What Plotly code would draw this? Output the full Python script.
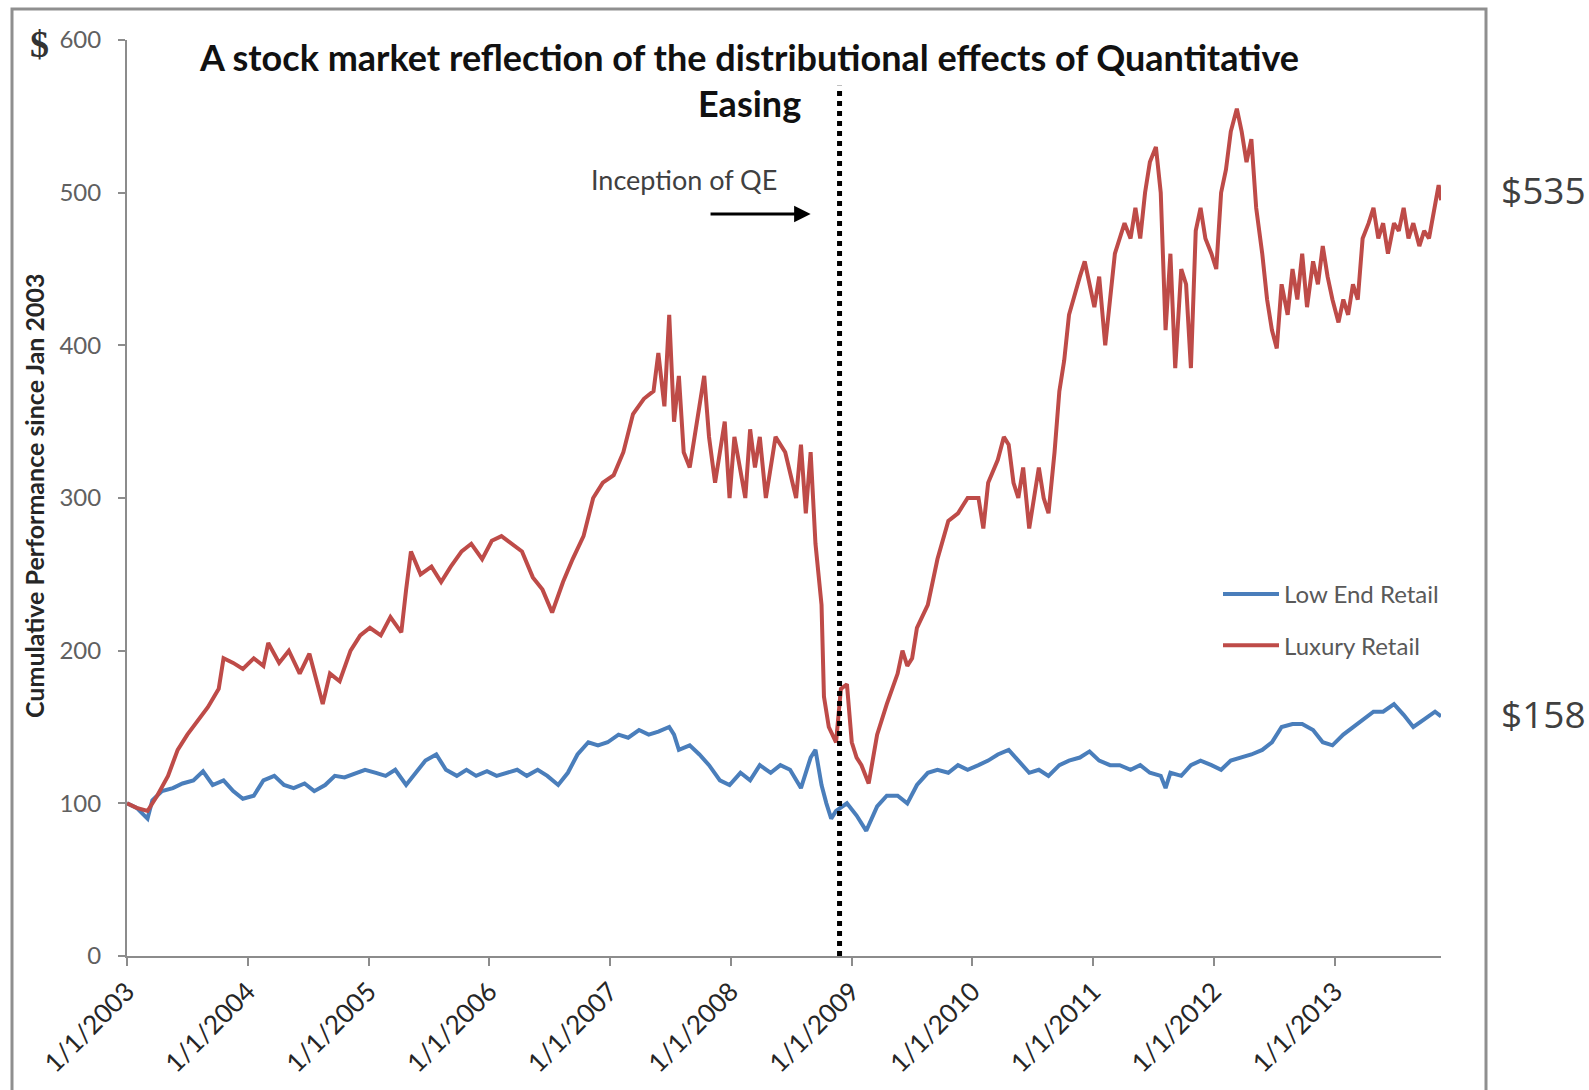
import pandas as pd
import plotly.graph_objects as go

# ---------------- data (decimal years, cumulative $ value of $100 invested Jan 2003) -------------
lux_t = [2003.00, 2003.08, 2003.17, 2003.25, 2003.34, 2003.42, 2003.50, 2003.59, 2003.67, 2003.76,
         2003.80, 2003.88, 2003.96, 2004.05, 2004.13, 2004.17, 2004.26, 2004.34, 2004.43, 2004.51,
         2004.59, 2004.62, 2004.68, 2004.76, 2004.85, 2004.93, 2005.01, 2005.10, 2005.18, 2005.27,
         2005.31, 2005.35, 2005.43, 2005.52, 2005.60, 2005.68, 2005.77, 2005.85, 2005.94, 2006.02,
         2006.10, 2006.19, 2006.27, 2006.36, 2006.44, 2006.52, 2006.61, 2006.69, 2006.78, 2006.86,
         2006.94, 2007.03, 2007.11, 2007.19, 2007.28, 2007.36, 2007.40, 2007.45, 2007.49, 2007.53,
         2007.57, 2007.61, 2007.66, 2007.74, 2007.78, 2007.82, 2007.87, 2007.91, 2007.95, 2007.99,
         2008.03, 2008.12, 2008.16, 2008.20, 2008.24, 2008.29, 2008.37, 2008.45, 2008.54, 2008.58,
         2008.62, 2008.66, 2008.70, 2008.75, 2008.77, 2008.81, 2008.87, 2008.91, 2008.96, 2009.00,
         2009.04, 2009.08, 2009.14, 2009.21, 2009.29, 2009.38, 2009.42, 2009.46, 2009.50, 2009.54,
         2009.63, 2009.71, 2009.80, 2009.88, 2009.96, 2010.05, 2010.09, 2010.13, 2010.21, 2010.26,
         2010.30, 2010.34, 2010.38, 2010.42, 2010.47, 2010.51, 2010.55, 2010.59, 2010.63, 2010.68,
         2010.72, 2010.76, 2010.80, 2010.89, 2010.93, 2010.97, 2011.01, 2011.05, 2011.10, 2011.14,
         2011.18, 2011.26, 2011.31, 2011.35, 2011.39, 2011.43, 2011.47, 2011.52, 2011.56, 2011.60,
         2011.64, 2011.68, 2011.73, 2011.77, 2011.81, 2011.85, 2011.89, 2011.93, 2011.98, 2012.02,
         2012.06, 2012.10, 2012.14, 2012.19, 2012.23, 2012.27, 2012.31, 2012.35, 2012.40, 2012.44,
         2012.48, 2012.52, 2012.56, 2012.61, 2012.65, 2012.69, 2012.73, 2012.77, 2012.82, 2012.86,
         2012.90, 2012.94, 2012.98, 2013.03, 2013.07, 2013.11, 2013.15, 2013.19, 2013.23, 2013.28,
         2013.32, 2013.36, 2013.40, 2013.44, 2013.49, 2013.53, 2013.57, 2013.61, 2013.65, 2013.70,
         2013.74, 2013.78, 2013.83, 2013.86, 2013.88]
lux_v = [100, 97, 95, 105, 118, 135, 145, 155, 163, 175,
         195, 192, 188, 195, 190, 205, 192, 200, 185, 198,
         175, 165, 185, 180, 200, 210, 215, 210, 222, 212,
         240, 265, 250, 255, 245, 255, 265, 270, 260, 272,
         275, 270, 265, 248, 240, 225, 245, 260, 275, 300,
         310, 315, 330, 355, 365, 370, 395, 360, 420, 350,
         380, 330, 320, 360, 380, 340, 310, 330, 350, 300,
         340, 300, 345, 320, 340, 300, 340, 330, 300, 335,
         290, 330, 270, 230, 170, 150, 140, 175, 178, 140,
         130, 125, 113, 145, 165, 185, 200, 190, 195, 215,
         230, 260, 285, 290, 300, 300, 280, 310, 325, 340,
         335, 310, 300, 320, 280, 300, 320, 300, 290, 330,
         370, 390, 420, 445, 455, 440, 425, 445, 400, 430,
         460, 480, 470, 490, 470, 500, 520, 530, 500, 410,
         460, 385, 450, 440, 385, 475, 490, 470, 460, 450,
         500, 515, 540, 555, 540, 520, 535, 490, 460, 430,
         410, 398, 440, 420, 450, 430, 460, 425, 455, 440,
         465, 445, 430, 415, 430, 420, 440, 430, 470, 480,
         490, 470, 480, 460, 480, 475, 490, 470, 480, 465,
         475, 470, 490, 505, 495]

low_t = [2003.00, 2003.08, 2003.17, 2003.21, 2003.29, 2003.38, 2003.46, 2003.55, 2003.63, 2003.71,
         2003.80, 2003.88, 2003.96, 2004.05, 2004.13, 2004.22, 2004.30, 2004.38, 2004.47, 2004.55,
         2004.64, 2004.72, 2004.80, 2004.89, 2004.97, 2005.06, 2005.14, 2005.22, 2005.31, 2005.39,
         2005.47, 2005.56, 2005.64, 2005.73, 2005.81, 2005.89, 2005.98, 2006.06, 2006.15, 2006.23,
         2006.31, 2006.40, 2006.48, 2006.57, 2006.65, 2006.73, 2006.82, 2006.90, 2006.98, 2007.07,
         2007.15, 2007.24, 2007.32, 2007.40, 2007.49, 2007.53, 2007.57, 2007.66, 2007.74, 2007.82,
         2007.91, 2007.99, 2008.08, 2008.16, 2008.24, 2008.33, 2008.41, 2008.49, 2008.58, 2008.66,
         2008.70, 2008.75, 2008.79, 2008.83, 2008.87, 2008.96, 2009.04, 2009.12, 2009.21, 2009.29,
         2009.38, 2009.46, 2009.54, 2009.63, 2009.71, 2009.80, 2009.88, 2009.96, 2010.05, 2010.13,
         2010.21, 2010.30, 2010.38, 2010.47, 2010.55, 2010.63, 2010.72, 2010.80, 2010.89, 2010.97,
         2011.05, 2011.14, 2011.22, 2011.31, 2011.39, 2011.47, 2011.56, 2011.60, 2011.64, 2011.73,
         2011.81, 2011.89, 2011.98, 2012.06, 2012.14, 2012.23, 2012.31, 2012.40, 2012.48, 2012.56,
         2012.65, 2012.73, 2012.82, 2012.90, 2012.98, 2013.07, 2013.15, 2013.23, 2013.32, 2013.40,
         2013.49, 2013.57, 2013.65, 2013.74, 2013.83, 2013.88]
low_v = [100, 97, 90, 102, 108, 110, 113, 115, 121, 112,
         115, 108, 103, 105, 115, 118, 112, 110, 113, 108,
         112, 118, 117, 120, 122, 120, 118, 122, 112, 120,
         128, 132, 122, 118, 122, 118, 121, 118, 120, 122,
         118, 122, 118, 112, 120, 132, 140, 138, 140, 145,
         143, 148, 145, 147, 150, 145, 135, 138, 132, 125,
         115, 112, 120, 115, 125, 120, 125, 122, 110, 130,
         135, 112, 100, 90, 95, 100, 92, 82, 98, 105,
         105, 100, 112, 120, 122, 120, 125, 122, 125, 128,
         132, 135, 128, 120, 122, 118, 125, 128, 130, 134,
         128, 125, 125, 122, 125, 120, 118, 110, 120, 118,
         125, 128, 125, 122, 128, 130, 132, 135, 140, 150,
         152, 152, 148, 140, 138, 145, 150, 155, 160, 160,
         165, 158, 150, 155, 160, 157]

year_ticks = list(range(2003, 2014))
tick_labels = [f"1/1/{y}" for y in year_ticks]
y_ticks = [0, 100, 200, 300, 400, 500, 600]
qe_date = "2008-11-25"
end_labels = ["$535", "$158"]


def dec2date(v):
    yr = int(v)
    frac = v - yr
    s = pd.Timestamp(year=yr, month=1, day=1)
    e = pd.Timestamp(year=yr + 1, month=1, day=1)
    return s + (e - s) * frac


lux_x = [dec2date(v) for v in lux_t]
low_x = [dec2date(v) for v in low_t]

# ---------------- layout geometry -------------
W, H = 1589, 1090
L, R, T, B = 127, 148, 40, 132
PW, PH = W - L - R, H - T - B


def xp(px):
    return (px - L) / PW


def yp(py):
    return (H - B - py) / PH


BLUE = "#4A7EBB"
RED = "#BE4B48"
FONT = "Lato"

fig = go.Figure()
fig.add_trace(go.Scatter(x=low_x, y=low_v, mode="lines", name="Low End Retail",
                         line=dict(color=BLUE, width=4), legendgroup="a"))
fig.add_trace(go.Scatter(x=lux_x, y=lux_v, mode="lines", name="Luxury Retail",
                         line=dict(color=RED, width=4), legendgroup="b"))

fig.update_layout(
    width=W, height=H,
    margin=dict(l=L, r=R, t=T, b=B, pad=0),
    paper_bgcolor="white", plot_bgcolor="white",
    font=dict(family=FONT, color="#404040"),
    showlegend=True,
    legend=dict(x=xp(1218), y=yp(573), xanchor="left", yanchor="top",
                bgcolor="rgba(0,0,0,0)", font=dict(size=24, color="#595959", family=FONT),
                itemwidth=56, tracegroupgap=17),
    xaxis=dict(type="date", range=["2003-01-01", "2013-11-18"],
               tickvals=[f"{y}-01-01" for y in year_ticks], ticktext=tick_labels,
               tickangle=-45, ticks="outside", ticklen=8, tickwidth=1.5, tickcolor="#8c8c8c",
               showline=True, linecolor="#8c8c8c", linewidth=2, showgrid=False, zeroline=False,
               tickfont=dict(size=26, color="#262626", family=FONT)),
    yaxis=dict(range=[0, 600], tickvals=y_ticks, ticks="outside", ticklen=7, tickwidth=1.5,
               tickcolor="#8c8c8c", showline=True, linecolor="#8c8c8c", linewidth=2,
               showgrid=False, zeroline=False, ticklabelstandoff=12,
               tickfont=dict(size=24, color="#606060", family=FONT)),
)

# outer frame of the chart image
fig.add_shape(type="rect", xref="paper", yref="paper",
              x0=xp(12), x1=xp(1486), y0=yp(1110), y1=yp(9),
              line=dict(color="#8f8f8f", width=3), fillcolor="rgba(0,0,0,0)", layer="below")

# QE inception dotted line
fig.add_shape(type="line", xref="x", yref="y", x0=qe_date, x1=qe_date, y0=0, y1=570,
              line=dict(color="black", width=5, dash="dot"), layer="above")

# title (two lines)
fig.add_annotation(text="<b>A stock market reflection of the distributional effects of Quantitative</b>",
                   xref="paper", yref="paper", x=xp(749), y=yp(57), xanchor="center", yanchor="middle",
                   showarrow=False, font=dict(size=36, color="#111111", family=FONT))
fig.add_annotation(text="<b>Easing</b>", xref="paper", yref="paper", x=xp(749), y=yp(103),
                   xanchor="center", yanchor="middle", showarrow=False,
                   font=dict(size=36, color="#111111", family=FONT))

# y axis title
fig.add_annotation(text="<b>Cumulative Performance since Jan 2003</b>", xref="paper", yref="paper",
                   x=xp(34), y=yp(497), xanchor="center", yanchor="middle", textangle=-90,
                   showarrow=False, font=dict(size=25, color="#262626", family=FONT))

# dollar sign
fig.add_annotation(text="<b>$</b>", xref="paper", yref="paper", x=xp(39), y=yp(44),
                   xanchor="center", yanchor="middle", showarrow=False,
                   font=dict(size=38, color="#333333", family="Liberation Serif"))

# inception label and arrow
fig.add_annotation(text="Inception of QE", xref="paper", yref="paper", x=xp(684), y=yp(180),
                   xanchor="center", yanchor="middle", showarrow=False,
                   font=dict(size=27, color="#404040", family=FONT))
fig.add_annotation(text="", xref="x", yref="y", x=dec2date(2008.66), y=486,
                   axref="x", ayref="y", ax=dec2date(2007.82), ay=486,
                   showarrow=True, arrowhead=2, arrowsize=1.1, arrowwidth=3, arrowcolor="black")

# end value labels
fig.add_annotation(text=end_labels[0], xref="paper", yref="paper", x=xp(1499), y=yp(190),
                   xanchor="left", yanchor="middle", showarrow=False,
                   font=dict(size=37, color="#404040", family="Open Sans"))
fig.add_annotation(text=end_labels[1], xref="paper", yref="paper", x=xp(1499), y=yp(715),
                   xanchor="left", yanchor="middle", showarrow=False,
                   font=dict(size=37, color="#404040", family="Open Sans"))

fig.write_html("out.html", config={"displayModeBar": False},
               post_script="document.body.style.margin='0';document.body.style.overflow='hidden';")
